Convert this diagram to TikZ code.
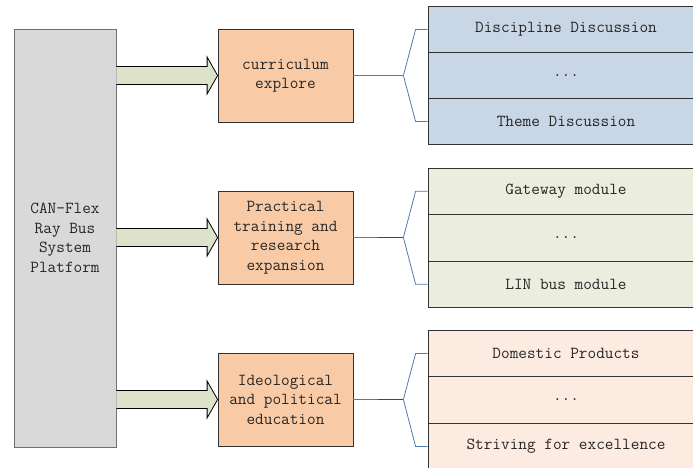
\documentclass[tikz,border=0pt]{standalone}
\usepackage{fontspec}
\usetikzlibrary{calc}
\definecolor{platfill}{HTML}{D9D9D9}
\definecolor{platdraw}{HTML}{707070}
\definecolor{boxfill}{HTML}{F8CBA6}
\definecolor{arrowfill}{HTML}{DCE3CA}
\definecolor{bluerow}{HTML}{C9D6E6}
\definecolor{greenrow}{HTML}{EBEEDF}
\definecolor{peachrow}{HTML}{FCEBE1}
\definecolor{connblue}{HTML}{5378AC}
\definecolor{conndark}{HTML}{1F4A86}
\definecolor{ink}{HTML}{262626}
\tikzset{
  txt/.style={font=\ttfamily\fontsize{16.8}{19.5}\selectfont, text=ink, align=center, inner sep=0pt},
  platform/.style={txt, draw=platdraw, fill=platfill, line width=0.8pt, minimum width=102pt, minimum height=418pt},
  stage/.style={txt, draw=black!80, fill=boxfill, line width=0.8pt, minimum width=135pt, minimum height=93pt},
  row/.style={txt, draw=black!80, line width=0.8pt, minimum width=276pt, minimum height=46.5pt},
  blockarrow/.style={draw=black, fill=arrowfill, line width=0.8pt, line join=miter},
  conn/.style={draw=connblue, line width=0.8pt},
  conntrunk/.style={draw=conndark, line width=1.8pt},
}
% block arrow from the platform's right side to the west side of a stage box
\newcommand\blockarr[2]{%
  \draw[blockarrow] ($(#1.east|-#2.west)+(0,-9)$) -- ($(#2.west)+(-10.5,-9)$)
    -- ($(#2.west)+(-10.5,-18.5)$) -- (#2.west) -- ($(#2.west)+(-10.5,18.5)$)
    -- ($(#2.west)+(-10.5,9)$) -- ($(#1.east|-#2.west)+(0,9)$);}
% bracket connector from a stage box to the first and last rows of its group
\newcommand\bracket[4]{%
  \coordinate (#1fork) at ($(#2.east)+(50,0)$);
  \draw[conn] (#2.east) -- (#1fork);
  \draw[conn] (#1fork) -- ($(#3.west)+(-12,0)$) -- (#3.west);
  \draw[conn] (#1fork) -- ($(#4.west)+(-12,0)$) -- (#4.west);}
\begin{document}
\begin{tikzpicture}[x=1pt,y=-1pt]
\useasboundingbox (0,0) rectangle (693,468);
\begin{scope}
\clip (0,0) rectangle (693,468);

% platform column
\node[platform] (plat) at (65,238) {CAN-Flex\\Ray Bus\\System\\Platform};

% stage boxes
\node[stage] (cur)  at (285.5,75.5)  {curriculum\\explore};
\node[stage] (prac) at (285.5,237.5) {Practical\\training and\\research\\expansion};
\node[stage] (ideo) at (285.5,399.5) {Ideological\\and political\\education};

% row groups
\node[row, fill=bluerow, minimum height=46pt] (a1) at (566,29.5)  {Discipline Discussion};
\node[row, fill=bluerow, minimum height=46pt] (a2) at (566,75.5)  {...};
\node[row, fill=bluerow, minimum height=46pt] (a3) at (566,121.5) {Theme Discussion};

\node[row, fill=greenrow] (b1) at (566,191.25) {Gateway module};
\node[row, fill=greenrow] (b2) at (566,237.75) {...};
\node[row, fill=greenrow] (b3) at (566,284.25) {LIN bus module};

\node[row, fill=peachrow] (c1) at (566,353.5) {Domestic Products};
\node[row, fill=peachrow] (c2) at (566,400)   {...};
\node[row, fill=peachrow] (c3) at (566,446.5) {Striving for excellence};

% block arrows
\blockarr{plat}{cur}
\blockarr{plat}{prac}
\blockarr{plat}{ideo}

% bracket connectors
\bracket{a}{cur}{a1}{a3}
\bracket{b}{prac}{b1}{b3}
\bracket{c}{ideo}{c1}{c3}
\draw[conntrunk] ($(bfork)+(-25,0)$) -- (bfork);
\draw[conntrunk] ($(cfork)+(-25,0)$) -- (cfork);
\end{scope}
\end{tikzpicture}
\end{document}
